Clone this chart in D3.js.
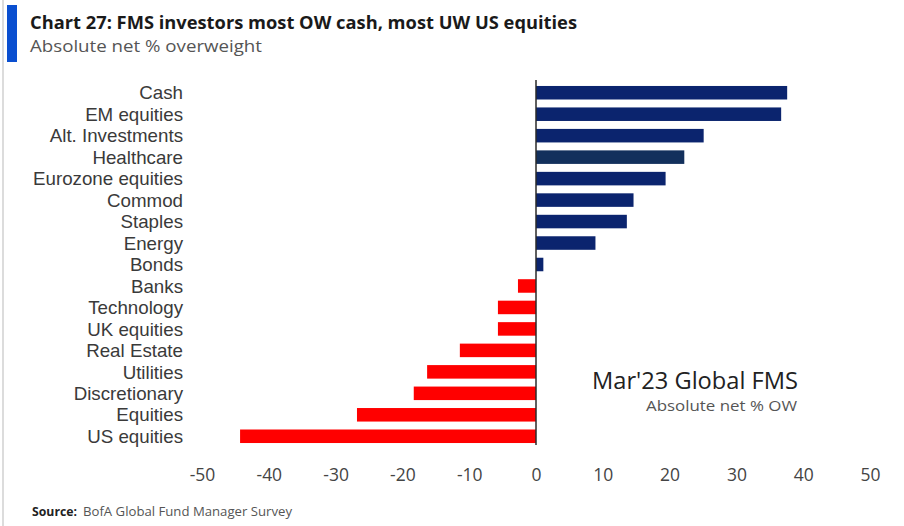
<!DOCTYPE html>
<html><head><meta charset="utf-8">
<script src="https://cdn.jsdelivr.net/npm/d3@7"></script>
<style>
html,body{margin:0;padding:0;background:#fff;}
svg{display:block;font-family:"Open Sans",sans-serif;}
</style></head>
<body><svg id="c" width="904" height="526"></svg>
<script>
const categories = ["Cash","EM equities","Alt. Investments","Healthcare","Eurozone equities","Commod","Staples","Energy","Bonds","Banks","Technology","UK equities","Real Estate","Utilities","Discretionary","Equities","US equities"];
const values = [37.6,36.7,25.1,22.2,19.4,14.6,13.6,8.9,1.1,-2.7,-5.7,-5.7,-11.4,-16.3,-18.3,-26.8,-44.3];
const xTicks = [-50,-40,-30,-20,-10,0,10,20,30,40,50];
const titleText = "Chart 27: FMS investors most OW cash, most UW US equities";
const subtitleText = "Absolute net % overweight";
const noteTitle = "Mar'23 Global FMS";
const noteSub = "Absolute net % OW";
const sourceLabel = "Source:";
const sourceText = "BofA Global Fund Manager Survey";

const svg = d3.select("#c");
const posColor = "#0b246e", healthColor = "#13305c", negColor = "#ff0000";
const labelFont = "'Liberation Sans Narrow','Liberation Sans',sans-serif";

function fit(sel, w){ sel.attr("textLength", w).attr("lengthAdjust","spacingAndGlyphs"); }

// frame decorations
svg.append("line").attr("x1",3).attr("x2",3).attr("y1",0).attr("y2",526)
  .attr("stroke","#d0d0d0").attr("stroke-width",1.5);
svg.append("rect").attr("x",7).attr("y",5).attr("width",10).attr("height",57).attr("fill","#0a4fd0");

const t = svg.append("text").attr("x",30).attr("y",28.5).attr("font-size",18.5).attr("font-weight",700)
  .attr("fill","#1a1a1a").text(titleText); fit(t,547);
const st = svg.append("text").attr("x",30).attr("y",52).attr("font-size",16.5)
  .attr("fill","#555").text(subtitleText); fit(st,232);

const x = d3.scaleLinear().domain([-50,50]).range([202,870]);
const y = d3.scaleBand().domain(categories).range([82,447]).paddingInner(0.37).paddingOuter(0.185);

// bars
svg.append("g").selectAll("rect").data(categories).join("rect")
  .attr("x",(d,i)=>x(Math.min(0,values[i])))
  .attr("width",(d,i)=>Math.abs(x(values[i])-x(0)))
  .attr("y",d=>y(d)).attr("height",y.bandwidth())
  .attr("fill",(d,i)=>values[i]<0?negColor:(d==="Healthcare"?healthColor:posColor));

// zero line
svg.append("line").attr("x1",x(0)).attr("x2",x(0)).attr("y1",y.range()[0]-2).attr("y2",y.range()[1]-2)
  .attr("stroke","#2a2a2a").attr("stroke-width",1.5);

// category labels
const ya = svg.append("g").attr("transform","translate(183,0)")
  .call(d3.axisLeft(y).tickSize(0).tickPadding(0));
ya.select(".domain").remove();
const lab = ya.selectAll("text").attr("font-size",18.5).attr("font-family",labelFont).attr("fill","#3a3a3a").attr("dy","0.36em");
let ref = 0;
lab.each(function(d){ if(d==="Eurozone equities") ref = this.getComputedTextLength(); });
const k = ref ? 150/ref : 1;
lab.each(function(){ const w=this.getComputedTextLength(); d3.select(this).attr("textLength",w*k).attr("lengthAdjust","spacingAndGlyphs"); });

// x axis labels
const xa = svg.append("g").attr("transform","translate(0,463)")
  .call(d3.axisBottom(x).tickValues(xTicks).tickSize(0).tickPadding(0).tickFormat(d=>String(d)));
xa.select(".domain").remove();
xa.selectAll("text").attr("font-size",19).attr("font-family","Open Sans").attr("fill","#444").attr("dy","0.95em")
  .each(function(){ const w=this.getComputedTextLength(); d3.select(this).attr("textLength",w*0.92).attr("lengthAdjust","spacingAndGlyphs"); });

// annotation
const n1 = svg.append("text").attr("x",798).attr("y",389).attr("text-anchor","end").attr("font-size",23)
  .attr("fill","#222").text(noteTitle); fit(n1,206);
const n2 = svg.append("text").attr("x",797).attr("y",411).attr("text-anchor","end").attr("font-size",15)
  .attr("fill","#555").text(noteSub); fit(n2,151);

// source
const s1 = svg.append("text").attr("x",32).attr("y",516).attr("font-size",12.5).attr("font-weight",700)
  .attr("fill","#222").text(sourceLabel); fit(s1,45);
const s2 = svg.append("text").attr("x",83).attr("y",516).attr("font-size",12.5)
  .attr("fill","#555").text(sourceText); fit(s2,209);
</script></body></html>
